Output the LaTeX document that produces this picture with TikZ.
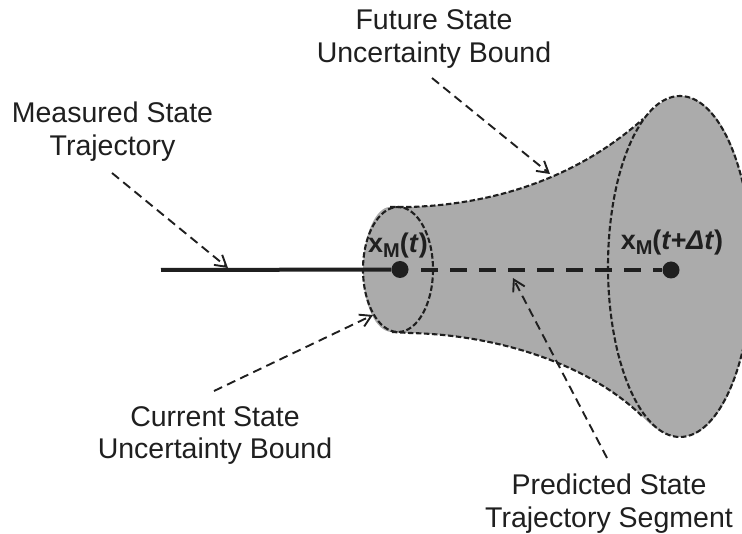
\documentclass[tikz,border=0pt]{standalone}
\usepackage{fontspec}
\setmainfont{Liberation Sans}
\usetikzlibrary{arrows.meta}
\definecolor{fillgray}{gray}{0.67}
\definecolor{inkc}{gray}{0.12}
\newcommand{\subM}{\raisebox{-5pt}{\fontsize{20}{20}\selectfont M}}
\tikzset{
  lbl/.style={align=center,font=\fontsize{28.5}{33}\selectfont,text=inkc,inner sep=0pt,anchor=base},
  mathlbl/.style={font=\fontsize{27}{30}\selectfont\bfseries,text=inkc,inner sep=0pt,anchor=base},
  bound/.style={draw=inkc,line width=2.1pt,dash pattern=on 5.5pt off 2.5pt},
  pointer/.style={draw=inkc,line width=1.9pt,dash pattern=on 9pt off 5.5pt,-{Straight Barb[length=11pt,width=13pt,line width=1.9pt]}},
  traj/.style={draw=inkc,line width=4pt},
  pt/.style={circle,fill=inkc,minimum size=17pt,inner sep=0pt}
}
\begin{document}
\begin{tikzpicture}[x=1pt,y=-1pt]
\useasboundingbox (0,0) rectangle (742,534);
\clip (0,0) rectangle (742,534);
% body
\fill[fillgray] (390,207) -- (410,207) .. controls (500,204) and (580,175) .. (643,119)
  .. controls (655,106) and (668,96) .. (680,96)
  .. controls (725,96) and (752,180) .. (752,266)
  .. controls (752,352) and (725,437) .. (680,437)
  .. controls (668,437) and (655,430) .. (643,417)
  .. controls (590,365) and (500,335) .. (410,333) -- (392,332)
  .. controls (376,332) and (363,305) .. (363,270)
  .. controls (363,235) and (376,207) .. (390,207) -- cycle;
% outline
\draw[bound] (390,207) -- (410,207) .. controls (500,204) and (580,175) .. (643,119);
\draw[bound] (392,332) -- (410,333) .. controls (500,335) and (590,365) .. (643,417);
\draw[bound] (398,269.5) ellipse [x radius=35,y radius=62.5];
\draw[bound] (680,266.5) ellipse [x radius=72,y radius=170.5];
% points
\node[pt] (a) at (400,269.5) {};
\node[pt] (b) at (671,270) {};
\coordinate (s) at (161,270);
\coordinate (d) at (421,270);
\draw[traj] (s) -- (a);
\draw[draw=inkc,line width=4.5pt,dash pattern=on 17pt off 12pt] (d) -- (b);
% labels
\node[lbl] (l1a) at (112.5,123) {Measured State};
\node[lbl] (l1b) at (112.5,156) {Trajectory};
\node[lbl] (l2a) at (434,30) {Future State};
\node[lbl] (l2b) at (434,63) {Uncertainty Bound};
\node[lbl] (l3a) at (215,427) {Current State};
\node[lbl] (l3b) at (215,459) {Uncertainty Bound};
\node[lbl] (l4a) at (609,495) {Predicted State};
\node[lbl] (l4b) at (609,527) {Trajectory Segment};
\node[mathlbl] (m1) at (398,253) {x\subM(\textit{t})};
\node[mathlbl] (m2) at (672,250) {x\subM(\textit{t+Δt})};
% pointers
\coordinate (p1a) at (112,173); \coordinate (p1b) at (228,268);
\coordinate (p2a) at (432,78); \coordinate (p2b) at (550,174);
\coordinate (p3a) at (214,391); \coordinate (p3b) at (373,315);
\coordinate (p4a) at (607,458); \coordinate (p4b) at (513,278);
\draw[pointer] (p1a) -- (p1b);
\draw[pointer] (p2a) -- (p2b);
\draw[pointer] (p3a) -- (p3b);
\draw[pointer] (p4a) -- (p4b);
\end{tikzpicture}
\end{document}
